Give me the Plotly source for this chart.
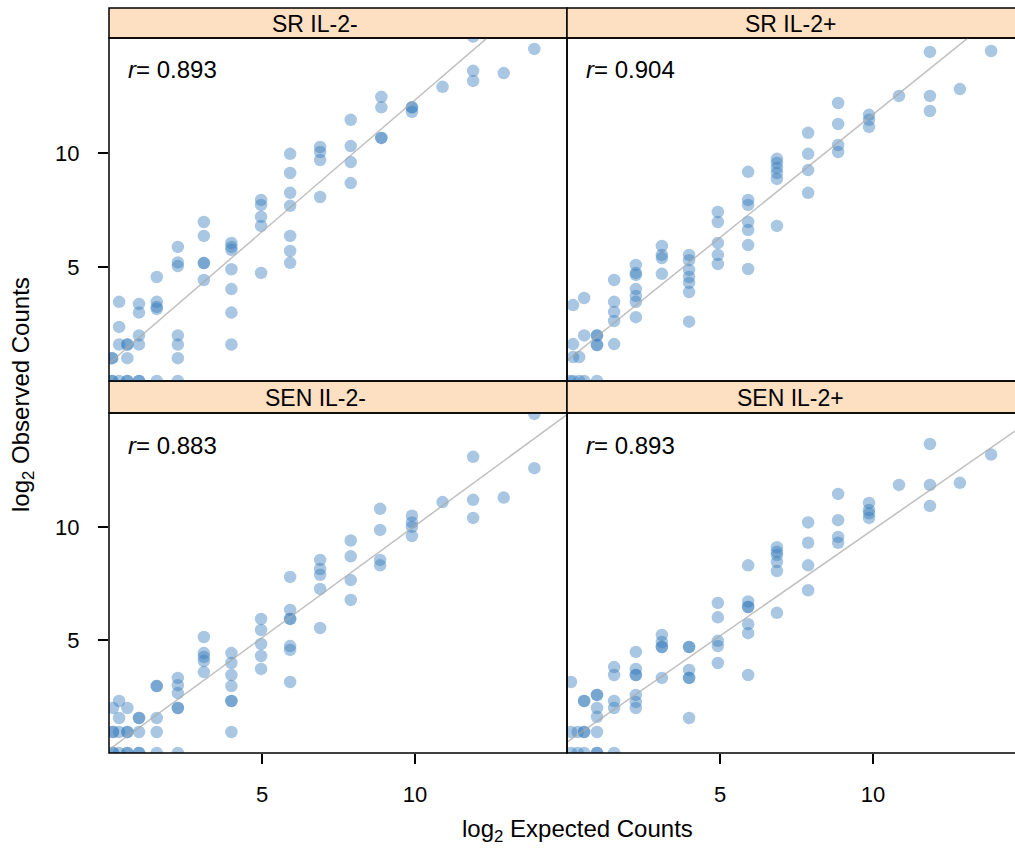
import plotly.graph_objects as go

W, H = 1015, 848
OFF = 0  # body margin removed by post_script below

panel_titles = ["SR IL-2-", "SR IL-2+", "SEN IL-2-", "SEN IL-2+"]
r_values = ["0.893", "0.904", "0.883", "0.893"]

# SR IL-2-
sr_minus_x = [0.1]*4 + [0.33]*4 + [0.6]*5 + [0.98]*6 + [1.56]*5 + [2.25]*7 + [3.1]*5 + [4.0]*7 + \
    [4.97]*5 + [5.92]*7 + [6.9]*4 + [7.9]*4 + [8.9]*4 + [9.9]*3 + [10.9] + [11.9]*3 + [12.9] + [13.9]
sr_minus_y = [1.0, 1.0, 0, 0,
              3.47, 2.37, 1.6, 0,
              1.6, 1.6, 1.0, 0, 0,
              3.38, 3.0, 2.0, 1.6, 0, 0,
              4.56, 3.47, 3.25, 3.16, 0,
              5.88, 5.2, 5.04, 2.0, 1.6, 1.0, 0,
              6.97, 6.36, 5.17, 5.17, 4.43,
              6.05, 5.88, 5.75, 4.9, 4.03, 3.0, 1.6,
              7.94, 7.72, 7.2, 6.8, 4.74,
              9.96, 9.12, 8.25, 7.68, 6.36, 5.7, 5.18,
              10.26, 10.04, 9.69, 8.07,
              11.45, 10.3, 9.6, 8.68,
              12.46, 12.0, 10.66, 10.66,
              12.0, 12.0, 11.8,
              12.9,
              15.1, 13.6, 13.16,
              13.5,
              14.56]

# SR IL-2+
sr_plus_x = [0.1] + [0.2]*4 + [0.4]*2 + [0.56]*3 + [0.98]*5 + [1.54]*5 + [2.25]*7 + [3.1]*4 + [3.99]*7 + \
    [4.93]*5 + [5.92]*7 + [6.86]*6 + [7.88]*4 + [8.86]*4 + [9.87]*3 + [10.85] + [11.86]*3 + [12.84] + [13.86]
sr_plus_y = [0,
             3.33, 1.62, 1.05, 0,
             1.05, 0,
             3.64, 2.0, 0,
             2.0, 2.0, 1.58, 1.58, 0,
             4.43, 3.47, 3.03, 2.63, 1.62,
             5.09, 4.74, 4.65, 4.03, 3.73, 3.47, 2.8,
             5.92, 5.53, 5.39, 4.7,
             5.53, 5.3, 4.87, 4.56, 4.3, 3.9, 2.6,
             7.41, 6.97, 6.05, 5.53, 5.13,
             9.17, 7.94, 7.72, 6.97, 6.62, 5.96, 4.91,
             9.74, 9.56, 9.34, 9.12, 8.86, 6.8,
             10.88, 9.96, 9.25, 8.25,
             12.19, 11.27, 10.35, 10.04,
             11.67, 11.45, 11.14,
             12.5,
             14.43, 12.5, 11.84,
             12.8,
             14.47]

# SEN IL-2-
sen_minus_x = [0.13]*5 + [0.33]*4 + [0.6]*5 + [0.98]*5 + [1.56]*5 + [2.25]*6 + [3.1]*5 + [4.0]*7 + \
    [4.97]*5 + [5.92]*7 + [6.9]*5 + [7.9]*4 + [8.86]*4 + [9.9]*4 + [10.9] + [11.9]*3 + [12.9] + [13.9]*2
sen_minus_y = [1.99, 0.93, 0.93, 0, 0,
               2.3, 1.55, 0.93, 0,
               1.99, 0.93, 0.93, 0, 0,
               1.55, 1.55, 0.93, 0, 0,
               2.96, 2.96, 1.55, 0.93, 0,
               3.32, 3.0, 2.65, 1.99, 1.99, 0,
               5.13, 4.42, 4.25, 4.07, 3.58,
               4.42, 3.98, 3.45, 2.96, 2.3, 2.3, 0.93,
               5.93, 5.44, 4.82, 4.29, 3.72,
               7.79, 6.33, 5.93, 5.93, 4.73, 4.56, 3.14,
               8.54, 8.14, 7.88, 7.26, 5.53,
               9.4, 8.7, 7.65, 6.77,
               10.8, 9.87, 8.54, 8.3,
               10.5, 10.2, 10.0, 9.6,
               11.1,
               13.1, 11.2, 10.4,
               11.3,
               15.0, 12.6]

# SEN IL-2+
sen_plus_x = [0.13]*3 + [0.35]*2 + [0.56]*5 + [0.98]*7 + [1.54]*5 + [2.25]*7 + [3.1]*5 + [3.99]*6 + \
    [4.93]*5 + [5.92]*7 + [6.86]*6 + [7.88]*4 + [8.86]*4 + [9.87]*4 + [10.85] + [11.86]*3 + [12.84] + [13.86]
sen_plus_y = [3.14, 0.93, 0,
              0.93, 0,
              2.3, 2.3, 0.93, 0.93, 0,
              2.57, 2.57, 1.99, 1.6, 0.93, 0, 0,
              3.8, 3.45, 2.3, 1.99, 0,
              4.47, 3.72, 3.45, 3.45, 2.57, 2.26, 1.99,
              5.22, 4.91, 4.69, 4.69, 3.32,
              4.69, 4.69, 3.67, 3.32, 3.32, 1.55,
              6.64, 6.0, 4.96, 4.73, 3.98,
              8.3, 6.7, 6.46, 6.46, 5.7, 5.3, 3.45,
              9.1, 8.9, 8.76, 8.45, 8.05, 6.2,
              10.2, 9.3, 8.3, 7.2,
              11.46, 10.3, 9.56, 9.3,
              11.06, 10.75, 10.6, 10.4,
              11.86,
              13.67, 11.86, 10.93,
              11.95,
              13.2]

# fitted line per panel
fit_slope = [1.155, 1.08, 0.99, 0.94]
fit_intercept = [0.77, 0.89, 0.15, 0.48]

x_ticks = [5, 10]
y_ticks = [5, 10]

panel_x = [sr_minus_x, sr_plus_x, sen_minus_x, sen_plus_x]
panel_y = [sr_minus_y, sr_plus_y, sen_minus_y, sen_plus_y]

# ---- layout geometry (window pixels) ----
PX_L, PX_M, PX_R = 109, 567, 1025
UNIT_X = 30.6
ROW_TOP = [(8, 38, 381), (381, 413, 753)]  # strip top, panel top, panel bottom
TITLE_CX = [315, 790]


def fx(px):
    return (px - OFF) / W


def fy(py):
    return 1 - (py - OFF) / H


fig = go.Figure()

xr_left = [0, (PX_M - PX_L) / UNIT_X]
xr_right = [0, (W - PX_M) / UNIT_X]
yr = [0, 15.04]

FONT = "Liberation Sans, Arial, Helvetica, sans-serif"
point_color = "rgba(50,121,187,0.42)"

for i in range(4):
    row, col = divmod(i, 2)
    xa = "x" if i == 0 else f"x{i+1}"
    ya = "y" if i == 0 else f"y{i+1}"
    xr = xr_left if col == 0 else xr_right
    fig.add_trace(go.Scatter(
        x=panel_x[i], y=panel_y[i], mode="markers", xaxis=xa, yaxis=ya,
        marker=dict(size=12.5, color=point_color, line=dict(width=0)),
        showlegend=False, hoverinfo="x+y"))
    lx = [xr[0], xr[1]]
    ly = [fit_intercept[i] + fit_slope[i] * v for v in lx]
    fig.add_trace(go.Scatter(
        x=lx, y=ly, mode="lines", xaxis=xa, yaxis=ya,
        line=dict(color="rgba(170,170,170,0.75)", width=1.5),
        showlegend=False, hoverinfo="skip"))

layout = dict(
    width=W, height=H,
    margin=dict(l=0, r=0, t=0, b=0),
    paper_bgcolor="white", plot_bgcolor="white",
    font=dict(family=FONT, size=22, color="black"),
    showlegend=False,
)

for i in range(4):
    row, col = divmod(i, 2)
    s = "" if i == 0 else str(i + 1)
    _, ptop, pbot = ROW_TOP[row]
    xdom = [fx(PX_L), fx(PX_M)] if col == 0 else [fx(PX_M), 1.0]
    ydom = [fy(pbot), fy(ptop)]
    xr = xr_left if col == 0 else xr_right
    xaxis = dict(domain=xdom, range=xr, anchor="y" + s, showgrid=False, zeroline=False,
                 showline=False, fixedrange=True)
    if row == 1:
        xaxis.update(tickmode="array", tickvals=x_ticks, ticks="outside", ticklen=10,
                     tickwidth=1.5, tickcolor="black", showticklabels=True,
                     tickfont=dict(size=22, family=FONT), ticklabelstandoff=12)
    else:
        xaxis.update(showticklabels=False, ticks="")
    yaxis = dict(domain=ydom, range=yr, anchor="x" + s, showgrid=False, zeroline=False,
                 showline=False, fixedrange=True)
    if col == 0:
        yaxis.update(tickmode="array", tickvals=y_ticks, ticks="outside", ticklen=10,
                     tickwidth=1.5, tickcolor="black", showticklabels=True,
                     tickfont=dict(size=22, family=FONT), ticklabelstandoff=14)
    else:
        yaxis.update(showticklabels=False, ticks="")
    layout["xaxis" + s] = xaxis
    layout["yaxis" + s] = yaxis

fig.update_layout(**layout)

shapes = []
annotations = []
line_style = dict(color="black", width=1.5)
for row in range(2):
    stop, ptop, pbot = ROW_TOP[row]
    for col in range(2):
        x0 = PX_L if col == 0 else PX_M
        x1 = PX_M if col == 0 else PX_R
        # strip
        shapes.append(dict(type="rect", xref="paper", yref="paper",
                           x0=fx(x0), x1=fx(x1), y0=fy(ptop), y1=fy(stop),
                           fillcolor="#FDDFC2", line=line_style, layer="below"))
        # panel frame
        shapes.append(dict(type="rect", xref="paper", yref="paper",
                           x0=fx(x0), x1=fx(x1), y0=fy(pbot), y1=fy(ptop),
                           fillcolor="rgba(0,0,0,0)", line=line_style, layer="above"))
        i = row * 2 + col
        annotations.append(dict(xref="paper", yref="paper",
                                x=fx(TITLE_CX[col]), y=fy((stop + ptop) / 2 + 1),
                                text=panel_titles[i], showarrow=False,
                                font=dict(size=23, family=FONT, color="black"),
                                xanchor="center", yanchor="middle"))
        annotations.append(dict(xref="paper", yref="paper",
                                x=fx(x0 + 17), y=fy(ptop + 32),
                                text="<i>r</i>= " + r_values[i], showarrow=False,
                                font=dict(size=24, family=FONT, color="black"),
                                xanchor="left", yanchor="middle"))

annotations.append(dict(xref="paper", yref="paper", x=fx(577), y=fy(830),
                        text="log<sub>2</sub> Expected Counts", showarrow=False,
                        font=dict(size=24, family=FONT), xanchor="center", yanchor="middle"))
annotations.append(dict(xref="paper", yref="paper", x=fx(22), y=fy(395),
                        text="log<sub>2</sub> Observed Counts", showarrow=False, textangle=-90,
                        font=dict(size=24, family=FONT), xanchor="center", yanchor="middle"))

fig.update_layout(shapes=shapes, annotations=annotations)
fig.write_html(
    "out.html",
    config={"displayModeBar": False},
    post_script=("document.body.style.margin='0';"
                 "document.body.style.overflow='hidden';"
                 "document.documentElement.style.overflow='hidden';"),
)
